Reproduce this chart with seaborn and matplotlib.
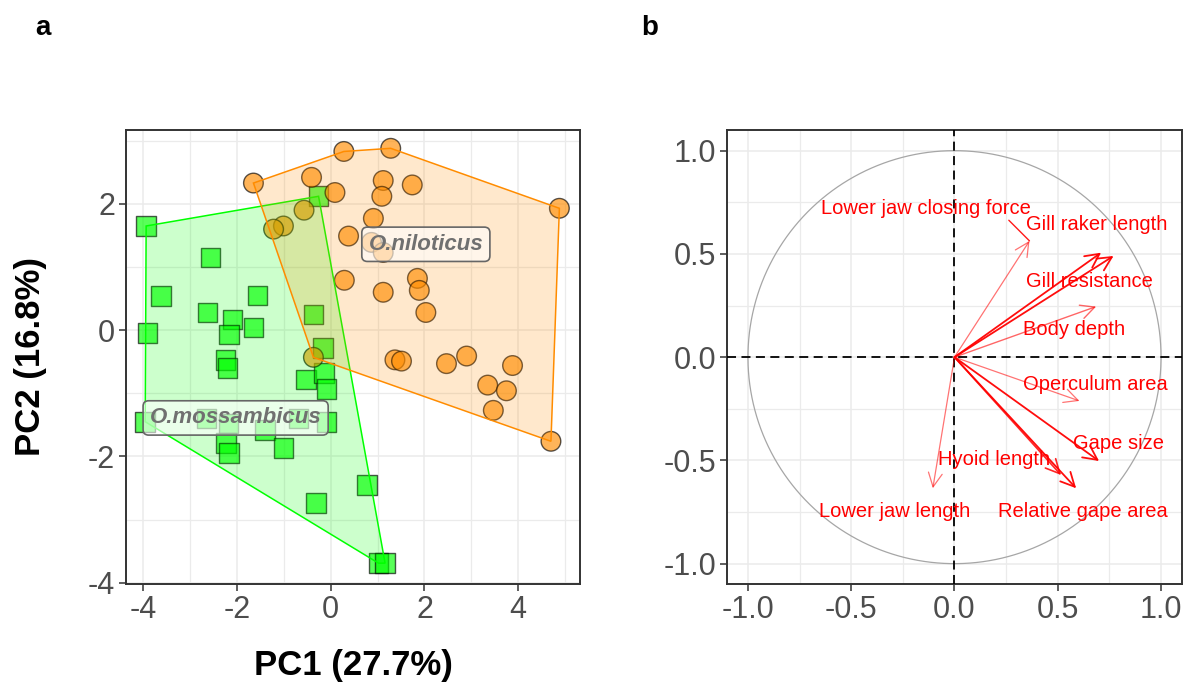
import numpy as np
import pandas as pd
import matplotlib
matplotlib.use("Agg")
import matplotlib.pyplot as plt
import seaborn as sns
from matplotlib.patches import Polygon, FancyArrowPatch

# ---------------- data ----------------
species = ["O.mossambicus", "O.niloticus"]

moss_pc1 = [-3.94, -2.57, -3.62, -1.56, -2.63, -2.10, -1.65, -3.91, -2.17, -0.37,
            -0.16, -2.25, -2.20, -0.53, -0.14, -0.09, -3.96, -2.65, -2.18, -1.40,
            -0.69, -0.09, -2.24, -2.17, -1.01, 0.78, -0.31, 1.02, 1.16, -0.26]
moss_pc2 = [1.65, 1.15, 0.54, 0.55, 0.28, 0.17, 0.04, -0.04, -0.07, 0.25,
            -0.28, -0.47, -0.60, -0.78, -0.68, -0.93, -1.45, -1.40, -1.48, -1.58,
            -1.40, -1.45, -1.79, -1.95, -1.87, -2.45, -2.74, -3.69, -3.69, 2.12]

nilo_pc1 = [-1.65, 0.28, 1.28, -0.41, 0.09, 1.12, 1.74, 1.09, 4.88, -0.57,
            -1.01, -1.22, 0.91, 0.38, 0.87, 1.12, 0.29, 1.12, 1.85, 1.89,
            2.03, -0.37, 1.37, 1.51, 2.47, 2.90, 3.88, 3.35, 3.75, 3.47, 4.70]
nilo_pc2 = [2.33, 2.83, 2.88, 2.42, 2.18, 2.37, 2.30, 2.12, 1.93, 1.90,
            1.65, 1.60, 1.77, 1.49, 1.39, 1.23, 0.79, 0.60, 0.82, 0.63,
            0.28, -0.43, -0.47, -0.49, -0.53, -0.41, -0.56, -0.87, -0.96, -1.27, -1.76]

group_label_pc1 = [-2.03, 2.03]
group_label_pc2 = [-1.39, 1.36]

pc1_title = "PC1 (27.7%)"
pc2_title = "PC2 (16.8%)"

var_names = ["Lower jaw closing force", "Gill raker length", "Gill resistance",
             "Body depth", "Operculum area", "Gape size", "Hyoid length",
             "Relative gape area", "Lower jaw length"]
var_dim1 = [0.363, 0.710, 0.770, 0.686, 0.605, 0.700, 0.516, 0.589, -0.105]
var_dim2 = [0.563, 0.506, 0.490, 0.245, -0.212, -0.503, -0.571, -0.635, -0.635]
var_label_x = [-0.14, 0.69, 0.655, 0.58, 0.68, 0.795, 0.19, 0.62, -0.29]
var_label_y = [0.72, 0.643, 0.365, 0.132, -0.132, -0.418, -0.495, -0.747, -0.747]

ticks_a_x = [-4, -2, 0, 2, 4]
ticks_a_y = [-4, -2, 0, 2]
ticks_b = [-1.0, -0.5, 0.0, 0.5, 1.0]

# ---------------- styles ----------------
pal = {"O.mossambicus": "#00FF00", "O.niloticus": "#FF8C00"}
markers = {"O.mossambicus": "s", "O.niloticus": "o"}
arrow_alpha = [0.55, 0.95, 0.95, 0.6, 0.55, 0.95, 0.85, 0.95, 0.55]
arrow_lw = [0.9, 1.3, 1.3, 1.0, 0.9, 1.3, 1.2, 1.3, 0.9]

sns.set_theme(style="white")
plt.rcParams['font.family'] = ['Liberation Sans', 'DejaVu Sans']

df = pd.DataFrame({
    "PC1": moss_pc1 + nilo_pc1,
    "PC2": moss_pc2 + nilo_pc2,
    "species": [species[0]] * len(moss_pc1) + [species[1]] * len(nilo_pc1),
})


def hull(points):
    pts = sorted(set(points))
    if len(pts) <= 2:
        return pts

    def cross(o, a, b):
        return (a[0] - o[0]) * (b[1] - o[1]) - (a[1] - o[1]) * (b[0] - o[0])
    lower, upper = [], []
    for p in pts:
        while len(lower) >= 2 and cross(lower[-2], lower[-1], p) <= 0:
            lower.pop()
        lower.append(p)
    for p in reversed(pts):
        while len(upper) >= 2 and cross(upper[-2], upper[-1], p) <= 0:
            upper.pop()
        upper.append(p)
    return lower[:-1] + upper[:-1]


fig = plt.figure(figsize=(11.91, 6.86), dpi=100)
ax = fig.add_axes([126 / 1191, 1 - 584 / 686, 454 / 1191, 454 / 686])
ax2 = fig.add_axes([727.3 / 1191, 1 - 584.3 / 686, 454.4 / 1191, 454.3 / 686])

frame_col = "#333333"
tick_col = "#4D4D4D"
grid_col = "#EBEBEB"

for a in (ax, ax2):
    a.set_facecolor("white")
    for sp in a.spines.values():
        sp.set_color(frame_col)
        sp.set_linewidth(1.4)
    a.set_axisbelow(True)
    a.grid(True, which="major", color=grid_col, lw=1.1)
    a.grid(True, which="minor", color=grid_col, lw=0.9)
    a.tick_params(axis="both", which="major", direction="out", length=5, width=1.1,
                  color=frame_col, labelcolor=tick_col, labelsize=22, pad=3,
                  bottom=True, left=True)
    a.tick_params(which="minor", length=0)

# ---------------- panel a ----------------
sns.scatterplot(data=df, x="PC1", y="PC2", hue="species", style="species",
                markers=markers, palette=pal, s=200, alpha=0.65,
                edgecolor="black", linewidth=1.0, legend=False, ax=ax, zorder=3)

for sp, px, py in [(species[0], moss_pc1, moss_pc2), (species[1], nilo_pc1, nilo_pc2)]:
    hp = hull(list(zip(px, py)))
    ax.add_patch(Polygon(hp, closed=True, facecolor=pal[sp], alpha=0.2,
                         edgecolor="none", zorder=4))
    ax.add_patch(Polygon(hp, closed=True, facecolor="none", edgecolor=pal[sp],
                         lw=1.1, zorder=4))

for sp, lx, ly in zip(species, group_label_pc1, group_label_pc2):
    ax.text(lx, ly, sp, ha="center", va="center", fontsize=16, style="italic",
            fontweight="bold", color="#707070", zorder=6,
            bbox=dict(boxstyle="round,pad=0.3,rounding_size=0.25",
                      facecolor=(1, 1, 1, 0.6), edgecolor="#666666", lw=1.2))

ax.set_xlim(-4.37, 5.32)
ax.set_ylim(-4.02, 3.17)
ax.set_xticks(ticks_a_x)
ax.set_yticks(ticks_a_y)
ax.set_xticks([-3, -1, 1, 3, 5], minor=True)
ax.set_yticks([-3, -1, 1, 3], minor=True)
ax.set_xticklabels([str(t) for t in ticks_a_x])
ax.set_yticklabels([str(t) for t in ticks_a_y])
ax.set_xlabel(pc1_title, fontsize=25, fontweight="bold", color="black")
ax.set_ylabel(pc2_title, fontsize=25, fontweight="bold", color="black")
ax.xaxis.set_label_coords(0.5, (584 - 665) / 454)
ax.xaxis.label.set_va("center")
ax.yaxis.set_label_coords((31 - 126) / 454, 0.5)
ax.yaxis.label.set_va("center")

# ---------------- panel b ----------------
theta = np.linspace(0, 2 * np.pi, 400)
ax2.plot(np.cos(theta), np.sin(theta), color="#A6A6A6", lw=0.9, zorder=2)
ax2.axhline(0, color="black", lw=1.3, ls=(0, (5, 3)), zorder=3)
ax2.axvline(0, color="black", lw=1.3, ls=(0, (5, 3)), zorder=3)

for x, y, al, lw in zip(var_dim1, var_dim2, arrow_alpha, arrow_lw):
    arr = FancyArrowPatch((0, 0), (x, y),
                          arrowstyle="->,head_length=0.5,head_width=0.25",
                          mutation_scale=20, color="red", alpha=al, lw=lw,
                          shrinkA=0, shrinkB=0, zorder=4)
    ax2.add_patch(arr)

# repel segment for the first label
ax2.plot([0.263, var_dim1[0]], [0.663, var_dim2[0]], color="red", lw=1.0,
         alpha=0.9, zorder=4)

for name, lx, ly in zip(var_names, var_label_x, var_label_y):
    ax2.text(lx, ly, name, ha="center", va="center", fontsize=14.5,
             color="#FF0000", zorder=5)

ax2.set_xlim(-1.1, 1.1)
ax2.set_ylim(-1.1, 1.1)
ax2.set_xticks(ticks_b)
ax2.set_yticks(ticks_b)
ax2.set_xticks([-0.75, -0.25, 0.25, 0.75], minor=True)
ax2.set_yticks([-0.75, -0.25, 0.25, 0.75], minor=True)
ax2.set_xticklabels([f"{t:.1f}" for t in ticks_b])
ax2.set_yticklabels([f"{t:.1f}" for t in ticks_b])
ax2.set_xlabel("")
ax2.set_ylabel("")

# panel tags
fig.text(43 / 1191, 1 - 28 / 686, "a", fontsize=20, fontweight="bold",
         ha="center", va="center", color="black")
fig.text(650 / 1191, 1 - 28 / 686, "b", fontsize=20, fontweight="bold",
         ha="center", va="center", color="black")

fig.savefig("out.png", dpi=100, facecolor="white")
